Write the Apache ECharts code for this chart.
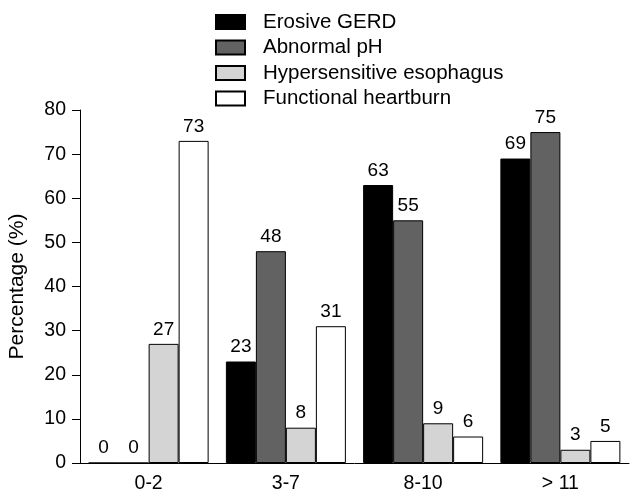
<!DOCTYPE html>
<html>
<head>
<meta charset="utf-8">
<script src="https://cdn.jsdelivr.net/npm/echarts@6/dist/echarts.min.js"></script>
<style>html,body{margin:0;padding:0;background:#fff}#c{width:630px;height:498px}</style>
</head>
<body>
<div id="c"></div>
<script>
var categories = ['0-2', '3-7', '8-10', '> 11'];
var erosiveGERD = [0, 23, 63, 69];
var abnormalPH = [0, 48, 55, 75];
var hypersensitive = [27, 8, 9, 3];
var functionalHB = [73, 31, 6, 5];
var seriesNames = ['Erosive GERD', 'Abnormal pH', 'Hypersensitive esophagus', 'Functional heartburn'];
var seriesColors = ['#000000', '#626262', '#d4d4d4', '#ffffff'];
var seriesData = [erosiveGERD, abnormalPH, hypersensitive, functionalHB];

var FONT = 'Liberation Sans';
var chart = echarts.init(document.getElementById('c'));
chart.setOption({
  animation: false,
  textStyle: { fontFamily: FONT, color: '#000' },
  legend: {
    orient: 'vertical', left: 210, top: 6.5,
    itemWidth: 29, itemHeight: 14, itemGap: 4.5,
    icon: 'rect',
    textStyle: { fontSize: 20.5, color: '#000', fontFamily: FONT, padding: [0, 0, 0, 13] },
    data: seriesNames
  },
  grid: { left: 80, right: 1, top: 110, bottom: 35, outerBoundsMode: 'none', containLabel: false },
  xAxis: {
    type: 'category', data: categories,
    axisLine: { lineStyle: { color: '#000', width: 1 } },
    axisTick: { length: 7, lineStyle: { color: '#000' } },
    axisLabel: { fontSize: 19.5, color: '#000', margin: 11, fontFamily: FONT }
  },
  yAxis: {
    type: 'value', min: 0, max: 80, interval: 10,
    name: 'Percentage (%)', nameLocation: 'middle', nameGap: 52, nameRotate: 90,
    nameTextStyle: { fontSize: 21, color: '#000', fontFamily: FONT },
    axisLine: { show: true, lineStyle: { color: '#000', width: 1 } },
    axisTick: { show: true, length: 8, lineStyle: { color: '#000' } },
    splitLine: { show: false },
    axisLabel: { fontSize: 19.5, color: '#000', margin: 14, fontFamily: FONT }
  },
  series: seriesNames.map(function (n, i) {
    return {
      name: n, type: 'bar', data: seriesData[i],
      barWidth: 30, barGap: '0%',
      itemStyle: { color: seriesColors[i], borderColor: '#000', borderWidth: 1 },
      label: { show: true, position: 'top', distance: 5, fontSize: 19, color: '#000', fontFamily: FONT }
    };
  })
});
</script>
</body>
</html>
